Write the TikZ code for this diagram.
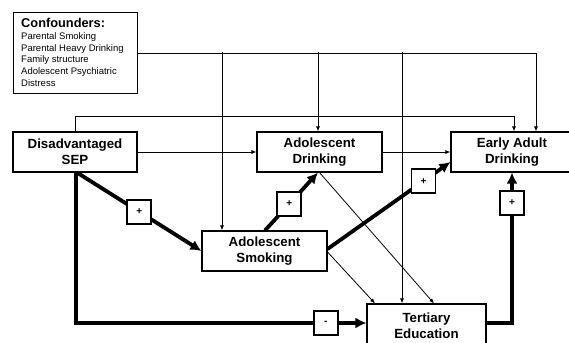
\documentclass[tikz,border=0pt]{standalone}
\usepackage{fontspec}
\setmainfont{Liberation Sans}
\usetikzlibrary{arrows.meta}
\begin{document}
\begin{tikzpicture}[x=1pt,y=-1pt,
  mainbox/.style={draw,line width=1.1pt,fill=white,align=center,inner sep=0pt,
     font=\fontsize{13.3}{16}\selectfont\bfseries,minimum height=40pt},
  signbox/.style={draw,line width=1.8pt,fill=white,minimum size=24pt,inner sep=0pt,
     font=\fontsize{10}{12}\selectfont\bfseries},
  thinarrow/.style={line width=0.8pt,-{Latex[length=5pt,width=4pt]}},
  thinline/.style={line width=0.8pt},
  thickarrow/.style={line width=3.8pt,-{Latex[length=11pt,width=11pt]}},
  thickline/.style={line width=3.8pt}]
\useasboundingbox (0,0) rectangle (569,342);
% boxes
\node[draw,line width=1.1pt,minimum width=124pt,minimum height=81pt,anchor=north west,inner sep=0pt] (conf) at (13,12) {};
\node[anchor=north west,align=left,inner sep=0pt,font=\fontsize{9.5}{11.8}\selectfont] (conftext) at (21,18.5)
  {{\fontsize{12.8}{14}\selectfont\bfseries Confounders:}\\[-0.5pt]
   Parental Smoking\\ Parental Heavy Drinking\\ Family structure\\ Adolescent Psychiatric\\ Distress};
\node[mainbox,minimum width=124pt] (sep) at (75,152) {Disadvantaged\\SEP};
\node[mainbox,minimum width=125pt] (adrink) at (319.5,152) {Adolescent\\Drinking};
\node[mainbox,minimum width=122pt] (early) at (512,152) {Early Adult\\Drinking};
\node[mainbox,minimum width=125pt] (smoke) at (264.5,251) {Adolescent\\Smoking};
\node[mainbox,minimum width=119pt,minimum height=44pt] (tert) at (426.5,326) {Tertiary\\Education};
% confounder paths
\coordinate (c1) at (222,52);
\coordinate (c2) at (318,52);
\coordinate (c3) at (402,52);
\draw[thinarrow] (conf.east) -| ([xshift=24pt]early.north);
\draw[thinarrow] (c1) -- (c1 |- smoke.north);
\draw[thinarrow] (c2) -- (c2 |- adrink.north);
\draw[thinarrow] (c3) -- (c3 |- tert.north);
% SEP to early adult
\coordinate (s1) at (75,116);
\draw[thinarrow] (sep.north) -- (s1) -| ([xshift=2pt]early.north);
\draw[thinarrow] (sep.east) -- (adrink.west);
\draw[thinarrow] (adrink.east) -- (early.west);
% thin to tertiary
\draw[thinarrow] (adrink.south) -- ([xshift=7.5pt]tert.north);
\draw[thinarrow] ([yshift=-1pt]smoke.east) -- ([xshift=-51.5pt]tert.north);
% thick paths
\draw[thickarrow] ([xshift=2pt]sep.south) -- (smoke.west) node[signbox,pos=0.5] (p1) {+};
\draw[thickarrow] ([xshift=0.5pt]smoke.north) -- ([xshift=-1.5pt]adrink.south) node[signbox,pos=0.46] (p2) {+};
\draw[thickarrow] ([yshift=2pt]smoke.east) -- ([yshift=-10pt]early.west) node[signbox,pos=0.78] (p3) {+};
\coordinate (b1) at (76,323);
\draw[thickarrow] ([xshift=1pt]sep.south) -- (b1) -- (b1 -| tert.west) node[signbox,pos=0.86] (m1) {-};
\coordinate (r1) at (512,323);
\draw[thickarrow] ([yshift=3pt]tert.east) -- (r1) -- (early.south) node[signbox,pos=0.8] (p4) {+};
\end{tikzpicture}
\end{document}
